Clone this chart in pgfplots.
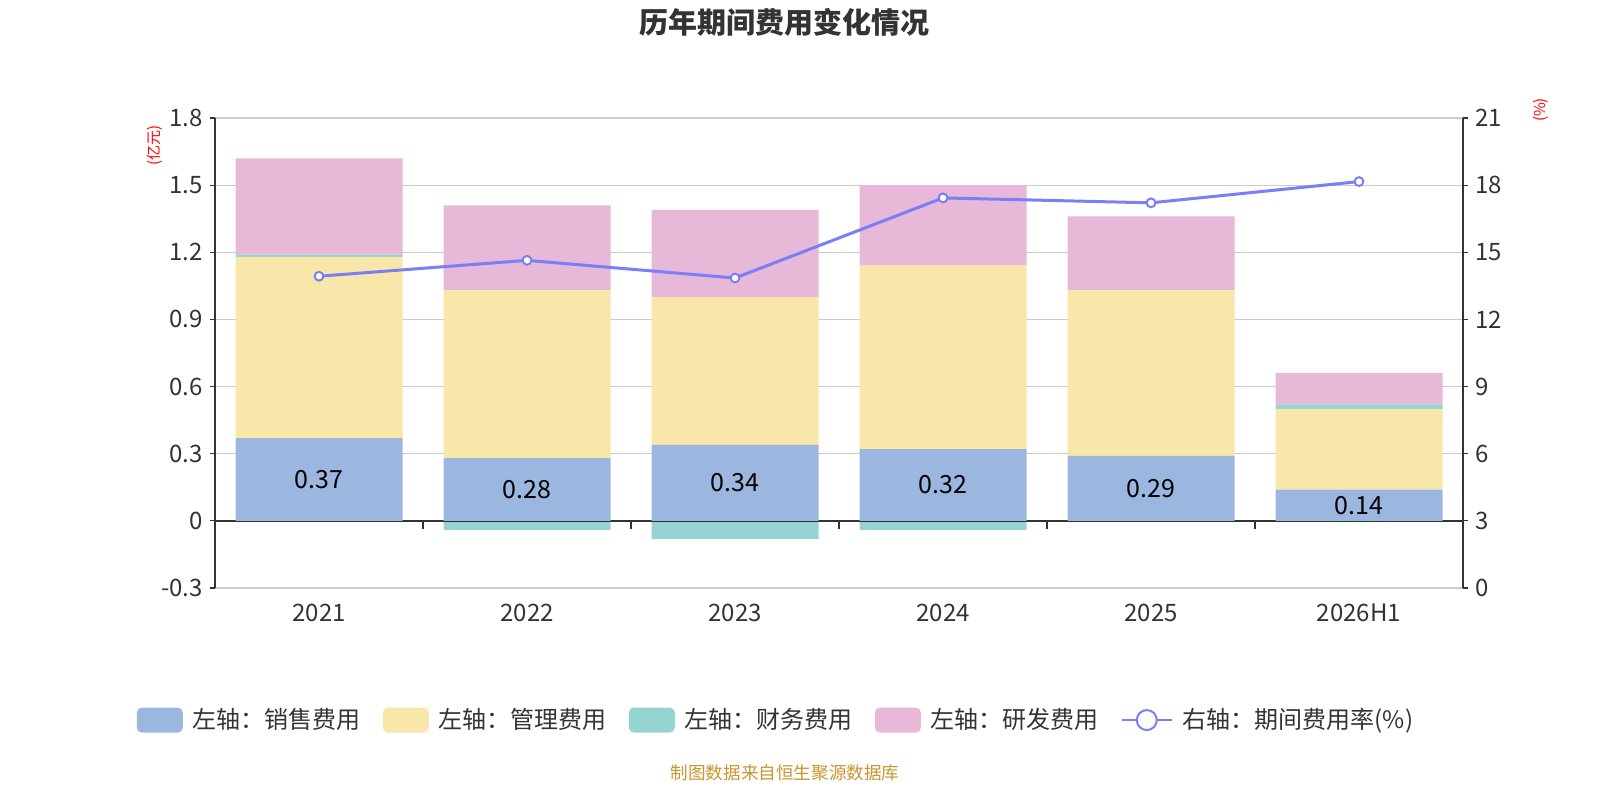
\documentclass[border=0pt]{standalone}
\usepackage{pgfplots}
\usepackage{pgfplotstable}
\pgfplotsset{compat=1.18}
\usepackage{fontspec}
\setmainfont{Noto Sans CJK SC}
\definecolor{cSales}{HTML}{9BB7E0}
\definecolor{cMgmt}{HTML}{F8E7A9}
\definecolor{cFin}{HTML}{96D3D3}
\definecolor{cRD}{HTML}{E7B8D8}
\definecolor{cLine}{HTML}{7B7FF6}
\definecolor{cText}{HTML}{333333}
\definecolor{cGrid}{HTML}{CCCCCC}
\definecolor{cFoot}{HTML}{C8952E}

\pgfplotstableread{
x sales mgmt finpos finneg rd rate
0 0.37 0.81 0.01 0     0.43 13.93
1 0.28 0.75 0    -0.04 0.38 14.64
2 0.34 0.66 0    -0.08 0.39 13.85
3 0.32 0.82 0    -0.04 0.36 17.43
4 0.29 0.74 0     0    0.33 17.21
5 0.14 0.36 0.02  0    0.14 18.16
}\data

\pgfplotsset{
  boxlegend/.style={legend image code/.code={
    \fill[#1, rounded corners=2.5pt] (0pt,-6.25pt) rectangle (23pt,6.25pt);}},
  common/.style={
    at={(107.5pt,106pt)}, anchor=south west,
    scale only axis, width=624pt, height=235pt,
    xmin=-0.5, xmax=5.5, clip=false,
    tick align=outside, major tick length=2.5pt,
    tick label style={font=\fontsize{12pt}{14pt}\selectfont, text=cText},
    /pgf/number format/assume math mode=true,
  },
}

\begin{document}
\begin{tikzpicture}
\node[font=\fontsize{14.5pt}{17pt}\selectfont\bfseries, text=cText] at (392pt,389pt) {历年期间费用变化情况};
\node[font=\fontsize{8.8pt}{10pt}\selectfont, text=cFoot] at (392.5pt,13.5pt) {制图数据来自恒生聚源数据库};
\node[font=\fontsize{7.5pt}{9pt}\selectfont, text=red, rotate=90] at (77.5pt,327.5pt) {(亿元)};
\node[font=\fontsize{7.5pt}{9pt}\selectfont, text=red, rotate=90] at (770.5pt,345pt) {(\%)};

% negative financial costs, drawn from zero (below everything else)
\begin{axis}[common,
  ybar, bar width=83.5pt, bar shift=0pt,
  ymin=-0.3, ymax=1.8,
  hide axis,
]
\addplot[fill=cFin, draw=none] table[x=x,y=finneg]{\data};
\end{axis}

% main stacked bars (positive parts), grid, left axis, legend
\begin{axis}[common,
  ybar stacked, bar width=83.5pt,
  ymin=-0.3, ymax=1.8,
  ytick={-0.3,0,0.3,0.6,0.9,1.2,1.5,1.8},
  yticklabels={-0.3,0,0.3,0.6,0.9,1.2,1.5,1.8},
  xtick={0,1,2,3,4,5},
  xticklabels={2021,2022,2023,2024,2025,2026H1},
  axis y line*=left, axis x line*=bottom,
  x axis line style={draw=none},
  xtick style={draw=none},
  y axis line style={cText, line width=0.6pt},
  ytick style={cText, line width=0.6pt},
  ymajorgrids, grid style={cGrid, line width=0.6pt},
  xticklabel style={yshift=-2pt},
  legend style={draw=none, fill=none, at={(0.4503,-0.281)}, anchor=center,
    font=\fontsize{12pt}{14pt}\selectfont, text=cText,
    legend columns=-1,
    /tikz/every odd column/.append style={column sep=3pt},
    /tikz/every even column/.append style={column sep=9pt}},
  legend cell align=left,
]
\addplot[fill=cSales, draw=none, boxlegend=cSales,
  point meta=explicit,
  nodes near coords,
  nodes near coords style={font=\fontsize{12.5pt}{14pt}\selectfont, text=black,
    anchor=center},
  /pgf/number format/fixed, /pgf/number format/fixed zerofill, /pgf/number format/precision=2,
] table[x=x,y=sales,meta=sales]{\data};
\addlegendentry{左轴：销售费用}
\addplot[fill=cMgmt, draw=none, boxlegend=cMgmt] table[x=x,y=mgmt]{\data};
\addlegendentry{左轴：管理费用}
\addplot[fill=cFin, draw=none, boxlegend=cFin] table[x=x,y=finpos]{\data};
\addlegendentry{左轴：财务费用}
\addplot[fill=cRD, draw=none, boxlegend=cRD] table[x=x,y=rd]{\data};
\addlegendentry{左轴：研发费用}
\addlegendimage{legend image code/.code={
  \draw[cLine, line width=1pt] (0pt,0pt) -- (25pt,0pt);
  \draw[cLine, line width=1pt, fill=white] (12.5pt,0pt) circle (5pt);}}
\addlegendentry{右轴：期间费用率(\%)}
\draw[cText, line width=0.8pt] (axis cs:-0.5,0) -- (axis cs:5.5,0);
\pgfplotsinvokeforeach{0.5,1.5,2.5,3.5,4.5}{
  \draw[cText, line width=0.8pt] (axis cs:#1,0) -- ++(0pt,-4pt);
}
\end{axis}

% right axis and rate line
\begin{axis}[common,
  ymin=0, ymax=21,
  ytick={0,3,6,9,12,15,18,21},
  axis y line*=right, axis x line=none,
  y axis line style={cText, line width=0.6pt},
  ytick style={cText, line width=0.6pt},
]
\addplot[cLine, line width=1.5pt, mark=*, mark size=2.2pt,
  mark options={fill=white, draw=cLine, line width=1pt}] table[x=x,y=rate]{\data};
\end{axis}
\pgfresetboundingbox
\path (0pt,0pt) rectangle (800pt,400pt);
\end{tikzpicture}
\end{document}
